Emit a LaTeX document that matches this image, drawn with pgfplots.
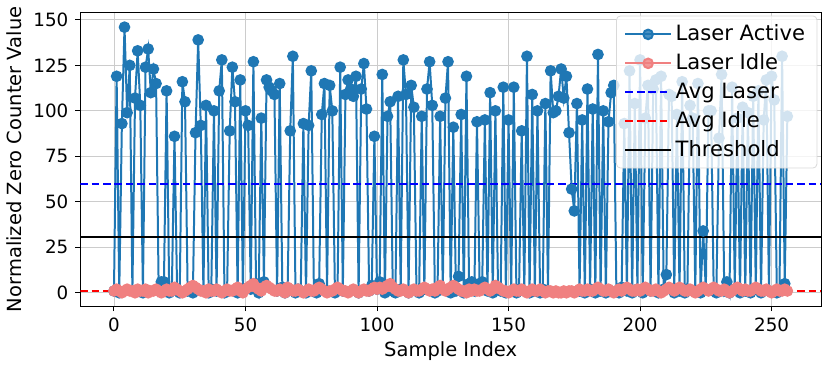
\documentclass[border=0pt]{standalone}
\usepackage{fontspec}
\setmainfont{DejaVu Sans}
\usepackage{pgfplots}
\usepackage{pgfplotstable}
\pgfplotsset{compat=1.18}
\definecolor{mplblue}{HTML}{1F77B4}
\definecolor{lcoral}{HTML}{F08080}

% sample index, laser active value, laser idle value
\pgfplotstableread{
x active idle
0 1 1
1 119 2
2 0 1
3 93 0
4 146 1
5 99 2
6 125 1
7 1 1
8 107 0
9 133 2
10 103 1
11 0 1
12 124 2
13 134 0
14 110 1
15 123 1
16 115 2
17 1 1
18 6 0
19 6 1
20 111 2
21 0 1
22 2 1
23 86 3
24 1 2
25 0 1
26 116 0
27 105 1
28 1 2
29 2 3
30 0 4
31 88 3
32 139 2
33 92 1
34 1 1
35 103 0
36 0 2
37 2 1
38 100 1
39 1 2
40 111 1
41 128 0
42 0 1
43 1 2
44 89 1
45 124 1
46 105 2
47 0 3
48 117 1
49 1 0
50 100 2
51 92 3
52 2 4
53 127 5
54 5 3
55 0 2
56 96 1
57 6 3
58 117 4
59 113 3
60 111 2
61 109 1
62 1 1
63 115 2
64 3 1
65 0 0
66 1 3
67 89 2
68 130 1
69 0 1
70 2 2
71 1 1
72 93 0
73 0 1
74 92 2
75 122 1
76 1 1
77 0 2
78 5 3
79 98 2
80 115 1
81 1 0
82 114 1
83 100 1
84 0 2
85 2 3
86 124 2
87 1 1
88 109 1
89 117 0
90 112 1
91 108 2
92 119 1
93 0 0
94 112 1
95 126 2
96 101 1
97 1 1
98 4 2
99 86 3
100 2 2
101 6 3
102 120 2
103 0 3
104 97 4
105 105 5
106 1 3
107 0 2
108 108 1
109 2 1
110 128 2
111 109 1
112 0 0
113 114 1
114 102 2
115 1 1
116 0 1
117 97 2
118 2 3
119 112 2
120 127 1
121 103 2
122 0 1
123 1 3
124 97 4
125 2 2
126 107 1
127 127 2
128 0 3
129 91 4
130 1 3
131 9 2
132 98 1
133 0 1
134 119 0
135 5 2
136 6 1
137 1 2
138 94 1
139 5 1
140 6 2
141 95 3
142 1 2
143 110 1
144 0 2
145 100 4
146 3 3
147 1 2
148 113 1
149 0 1
150 95 0
151 1 1
152 113 2
153 0 1
154 2 1
155 89 2
156 1 1
157 130 0
158 0 1
159 109 2
160 1 1
161 100 1
162 0 2
163 2 1
164 104 0
165 1 1
166 122 1
167 99 0
168 100 1
169 108 0
170 123 0
171 107 1
172 119 0
173 88 1
174 57 1
175 45 0
176 104 1
177 1 2
178 95 1
179 0 1
180 112 2
181 2 1
182 101 1
183 0 2
184 131 3
185 1 2
186 100 1
187 0 1
188 94 2
189 110 1
190 114 0
191 1 1
192 0 2
193 3 1
194 93 2
195 1 3
196 122 2
197 0 1
198 104 1
199 2 2
200 128 1
201 0 2
202 96 3
203 114 2
204 1 1
205 112 1
206 117 2
207 0 1
208 119 0
209 2 1
210 10 2
211 109 3
212 108 2
213 0 1
214 98 2
215 1 3
216 116 2
217 0 1
218 2 1
219 103 2
220 96 1
221 1 0
222 115 1
223 0 2
224 34 3
225 2 2
226 100 1
227 100 2
228 1 3
229 0 2
230 85 1
231 120 1
232 1 2
233 6 1
234 0 0
235 113 1
236 2 2
237 96 3
238 0 2
239 102 1
240 1 2
241 99 1
242 0 1
243 108 2
244 2 3
245 111 2
246 0 1
247 95 1
248 117 2
249 1 1
250 119 0
251 106 1
252 0 2
253 1 1
254 130 1
255 5 2
256 97 1
}\samples

\begin{document}
\begin{tikzpicture}
\begin{axis}[
  name=ax,
  scale only axis,
  width=371bp, height=147bp,
  xmin=-12.8, xmax=268.8,
  ymin=-7.3, ymax=154,
  xtick={0,50,...,250},
  ytick={0,25,...,150},
  grid=major,
  grid style={line width=0.4bp, draw=gray!40},
  axis line style={line width=0.5bp},
  tick align=outside,
  tick pos=left,
  major tick length=2.5bp,
  every tick/.style={black, line width=0.5bp},
  /pgf/number format/assume math mode=true,
  tick label style={font=\fontsize{9.2}{11}\selectfont},
  label style={font=\fontsize{9.8}{11}\selectfont},
  xlabel={Sample Index},
  ylabel={Normalized Zero Counter Value},
  xlabel style={yshift=2bp},
  ylabel style={yshift=-1bp},
  legend style={at={(0.995,0.99)}, anchor=north east,
    font=\fontsize{10.6}{13}\selectfont,
    draw=gray!30, rounded corners=2bp,
    fill=white, fill opacity=0.8, text opacity=1,
    inner xsep=4bp, inner ysep=2.5bp, row sep=1bp},
  legend cell align=left,
  legend image code/.code={%
    \draw[mark repeat=2, mark phase=2, #1]
      plot coordinates {(0cm,0cm) (0.4cm,0cm) (0.8cm,0cm)};},
]
\addplot[mplblue, line width=1bp, mark=*, mark size=2.4bp, mark options={solid}]
  table[x=x, y=active]{\samples};
\addlegendentry{Laser Active}
\addplot[lcoral, line width=1bp, mark=*, mark size=2.4bp, mark options={solid}]
  table[x=x, y=idle]{\samples};
\addlegendentry{Laser Idle}
\addplot[blue, line width=1bp, dash pattern=on 3.8bp off 1.9bp]
  coordinates {(-12.8,60) (268.8,60)};
\addlegendentry{Avg Laser}
\addplot[red, line width=1bp, dash pattern=on 3.8bp off 1.9bp]
  coordinates {(-12.8,1) (268.8,1)};
\addlegendentry{Avg Idle}
\addplot[black, line width=1bp]
  coordinates {(-12.8,30.5) (268.8,30.5)};
\addlegendentry{Threshold}
\end{axis}
\path (ax.south east) ++(4.5bp,0);
\path (ax.north east) ++(0,4.5bp);
\end{tikzpicture}
\end{document}
